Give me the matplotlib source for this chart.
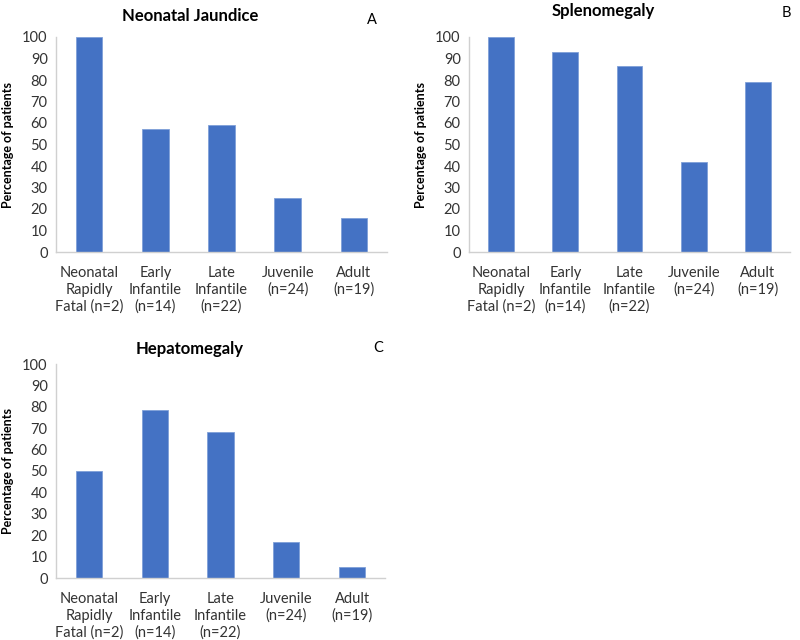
import matplotlib
matplotlib.use("Agg")
import matplotlib.pyplot as plt

categories = ["Neonatal\nRapidly\nFatal (n=2)", "Early\nInfantile\n(n=14)", "Late\nInfantile\n(n=22)",
              "Juvenile\n(n=24)", "Adult\n(n=19)"]
jaundice = [100, 57.1, 59.1, 25.0, 15.8]
splenomegaly = [100, 92.9, 86.4, 41.7, 78.9]
hepatomegaly = [50, 78.6, 68.2, 16.7, 5.3]
titles = ["Neonatal Jaundice", "Splenomegaly", "Hepatomegaly"]
letters = ["A", "B", "C"]
yticks = list(range(0, 101, 10))

plt.rcParams['font.family'] = ['Lato', 'DejaVu Sans']

W, H = 800, 640
fig = plt.figure(figsize=(8, 6.4), dpi=100)

def px_axes(l, r, t, b):
    return fig.add_axes([l / W, (H - b) / H, (r - l) / W, (b - t) / H])

panels = [
    (px_axes(56, 387, 37, 252), jaundice),
    (px_axes(469, 790, 37, 252), splenomegaly),
    (px_axes(56, 385, 364, 578), hepatomegaly),
]

bar_color = "#4472C4"
spine_color = "#D0D0D0"
for i, (ax, vals) in enumerate(panels):
    x = list(range(len(categories)))
    ax.bar(x, vals, width=0.4, color=bar_color, edgecolor="#7FA0D8", linewidth=0.6, zorder=2)
    ax.set_xlim(-0.5, len(categories) - 0.5)
    ax.set_ylim(0, 100)
    ax.set_yticks(yticks)
    ax.set_yticklabels([str(v) for v in yticks], fontsize=10.5)
    ax.set_xticks(x)
    ax.set_xticklabels(categories, fontsize=10.5, linespacing=1.25)
    ax.tick_params(axis='both', length=0, pad=6, colors="#333333")
    ax.tick_params(axis='x', pad=10)
    for s in ["top", "right"]:
        ax.spines[s].set_visible(False)
    for s in ["left", "bottom"]:
        ax.spines[s].set_color(spine_color)
        ax.spines[s].set_linewidth(1.0)
    ax.set_ylabel("Percentage of patients", fontsize=9, fontweight="bold", labelpad=6)

# titles and panel letters (pixel positions)
def ftext(xp, yp, s, **kw):
    fig.text(xp / W, (H - yp) / H, s, ha="center", va="center", **kw)

ftext(190, 16, titles[0], fontsize=12, fontweight="bold")
ftext(372, 20, letters[0], fontsize=10.5)
ftext(603, 11, titles[1], fontsize=12, fontweight="bold")
ftext(786, 13, letters[1], fontsize=10.5)
ftext(190, 349, titles[2], fontsize=12, fontweight="bold")
ftext(378, 348, letters[2], fontsize=10.5)

fig.savefig("out.png", dpi=100, facecolor="white")
